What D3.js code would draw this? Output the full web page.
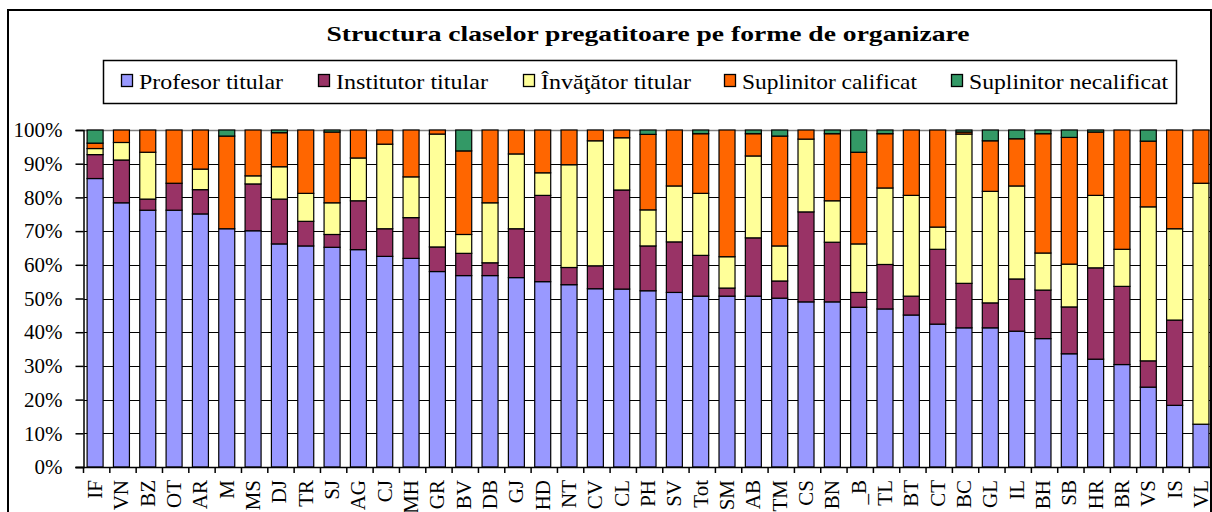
<!DOCTYPE html>
<html><head><meta charset="utf-8">
<script src="https://cdn.jsdelivr.net/npm/d3@7"></script>
<style>
html,body{margin:0;padding:0;background:#fff;}
svg{display:block;}
text{font-family:"Liberation Serif","Times New Roman",serif;fill:#000;}
</style></head>
<body>
<svg id="c" width="1212" height="512"></svg>
<script>
const title = "Structura claselor pregatitoare pe forme de organizare";
const categories = ["IF","VN","BZ","OT","AR","M","MS","DJ","TR","SJ","AG","CJ","MH","GR","BV","DB","GJ","HD","NT","CV","CL","PH","SV","Tot","SM","AB","TM","CS","BN","_B","TL","BT","CT","BC","GL","IL","BH","SB","HR","BR","VS","IS","VL"];
const seriesNames = ["Profesor titular","Institutor titular","Învăţător titular","Suplinitor calificat","Suplinitor necalificat"];
const profesor    = [85.6,78.4,76.2,76.2,75.1,70.7,70.1,66.2,65.6,65.2,64.5,62.5,61.9,58,56.8,56.8,56.2,55,54.1,52.9,52.8,52.3,51.8,50.7,50.7,50.7,50.1,49,49,47.4,46.9,45.1,42.4,41.3,41.3,40.3,38.1,33.6,32,30.4,23.7,18.3,12.7];
const institutor  = [7.1,12.7,3.3,8,7.2,0,13.9,13.3,7.3,3.8,14.5,8.2,12.1,7.3,6.6,3.8,14.5,25.6,5.1,6.8,29.4,13.3,15,12.1,2.4,17.3,5.1,26.7,17.7,4.4,13.2,5.6,22.2,13.2,7.4,15.5,14.4,13.9,27.1,23.2,7.8,25.3,0];
const invatator   = [1.8,5.2,13.9,0,6.1,0,2.4,9.6,8.3,9.4,12.7,25.1,12.1,33.5,5.6,17.8,22.2,6.7,30.5,37.1,15.5,10.7,16.6,18.4,9.3,24.3,10.4,21.6,12.3,14.4,22.7,29.9,6.6,44.3,33.1,27.6,11,12.7,21.5,11,45.7,27.1,71.5];
const calificat   = [1.6,3.7,6.6,15.8,11.6,27.5,13.6,10.1,18.8,21,8.3,4.2,13.9,1.2,24.8,21.6,7.1,12.7,10.3,3.2,2.3,22.4,16.6,17.7,37.6,6.6,32.6,2.7,19.9,27.2,16.1,19.4,28.8,0.6,15,14,35.4,37.6,18.8,35.4,19.5,29.3,15.8];
const necalificat = [3.9,0,0,0,0,1.8,0,0.8,0,0.6,0,0,0,0,6.2,0,0,0,0,0,0,1.3,0,1.1,0,1.1,1.8,0,1.1,6.6,1.1,0,0,0.6,3.2,2.6,1.1,2.2,0.6,0,3.3,0,0];
const yTicks = [0,0.1,0.2,0.3,0.4,0.5,0.6,0.7,0.8,0.9,1];
const colors = ["#9999FF","#993366","#FFFF99","#FF6600","#339966"];

const seriesValues = [profesor,institutor,invatator,calificat,necalificat];
const keys = ["p","i","v","c","n"];
const table = categories.map((c,j)=>{const o={cat:c}; keys.forEach((k,s)=>o[k]=seriesValues[s][j]); return o;});
const stacked = d3.stack().keys(keys).offset(d3.stackOffsetExpand)(table);

const svg = d3.select("#c");
// outer frame
svg.append("rect").attr("x",8).attr("y",10).attr("width",1203).attr("height",520)
  .attr("fill","#fff").attr("stroke","#000").attr("stroke-width",2);

// title
svg.append("text").attr("x",648).attr("y",41).attr("text-anchor","middle")
  .attr("font-weight","bold").attr("font-size",22)
  .attr("textLength",643).attr("lengthAdjust","spacingAndGlyphs").text(title);

// legend
const lg = svg.append("g");
lg.append("rect").attr("x",103.5).attr("y",60.5).attr("width",1073).attr("height",43)
  .attr("fill","#fff").attr("stroke","#000").attr("stroke-width",1.5);
const legX = [121,318,523,724,951];
const legW = [144,152,150,175,199];
seriesNames.forEach((n,i)=>{
  lg.append("rect").attr("x",legX[i]+0.5).attr("y",74.5).attr("width",11).attr("height",12)
    .attr("fill",colors[i]).attr("stroke","#000").attr("stroke-width",1.3);
  lg.append("text").attr("x",legX[i]+18).attr("y",89).attr("font-size",22)
    .attr("textLength",legW[i]).attr("lengthAdjust","spacingAndGlyphs").text(n);
});

// scales
const step = 26.33, x0 = 83.5;
const x = d3.scaleBand().domain(categories).range([x0, x0+step*categories.length]).paddingInner(0).paddingOuter(0);
const y = d3.scaleLinear().domain([0,1]).range([467,130]);

// gridlines
svg.append("g").selectAll("line").data(yTicks.filter(t=>t>0&&t<1)).join("line")
  .attr("x1",x0).attr("x2",1212).attr("y1",d=>Math.round(y(d))+0.5).attr("y2",d=>Math.round(y(d))+0.5)
  .attr("stroke","#000").attr("stroke-width",1);
svg.append("line").attr("x1",x0).attr("x2",1212).attr("y1",y(1)+0.5).attr("y2",y(1)+0.5)
  .attr("stroke","#808080").attr("stroke-width",1.5);

// bars
const barOff = 3.6, barW = 16;
const gBars = svg.append("g");
stacked.forEach((layer,s)=>{
  gBars.selectAll(null).data(layer.filter(d=>d[1]-d[0]>0)).join("rect")
    .attr("x",d=>x(d.data.cat)+barOff).attr("width",barW)
    .attr("y",d=>y(d[1])).attr("height",d=>y(d[0])-y(d[1]))
    .attr("fill",colors[s]).attr("stroke","#000").attr("stroke-width",1.2);
});

// y axis
const yAxis = d3.axisLeft(y).tickValues(yTicks).tickFormat(d3.format(".0%")).tickSize(8).tickPadding(13);
const ya = svg.append("g").attr("transform",`translate(${x0},0)`).call(yAxis);
ya.select(".domain").attr("stroke","#000").attr("stroke-width",1.5);
ya.selectAll(".tick line").attr("stroke","#000").attr("stroke-width",1.5);
ya.selectAll(".tick text").attr("font-size",21).attr("font-family","Liberation Serif, Times New Roman, serif").attr("fill","#000").attr("dy","0.32em");

// x axis
const xa = svg.append("g").attr("transform","translate(0,467)");
xa.append("line").attr("x1",x0-8).attr("x2",1212).attr("y1",0.5).attr("y2",0.5).attr("stroke","#000").attr("stroke-width",1.5);
xa.selectAll("line.t").data(categories).join("line").attr("class","t")
  .attr("x1",d=>x(d)).attr("x2",d=>x(d)).attr("y1",0).attr("y2",6).attr("stroke","#000").attr("stroke-width",1.5);
xa.selectAll("text").data(categories).join("text")
  .attr("transform",d=>`translate(${x(d)+barOff+barW/2+7},13) rotate(-90)`)
  .attr("text-anchor","end").attr("font-size",21).text(d=>d);

// frame right edge on top
svg.append("line").attr("x1",1211).attr("x2",1211).attr("y1",10).attr("y2",512).attr("stroke","#000").attr("stroke-width",2);
</script>
</body></html>
